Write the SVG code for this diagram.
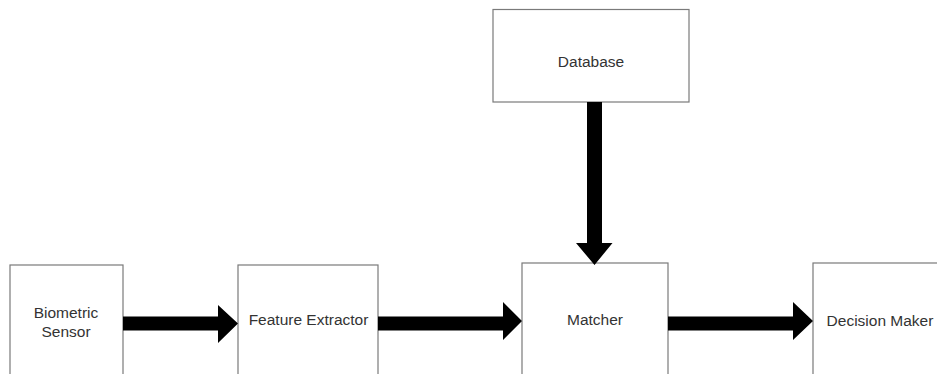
<svg xmlns="http://www.w3.org/2000/svg" width="937" height="374" viewBox="0 0 937 374">
<style>
.box{fill:#fff;stroke:#7a7a7a;stroke-width:1.2}
.lbl{font-family:"Liberation Sans",Arial,sans-serif;font-size:15.5px;fill:#333;text-anchor:middle}
.arr{fill:#000}
</style>
<rect width="937" height="374" fill="#fff"/>
<g id="database"><rect class="box" x="493" y="9.5" width="196" height="92.5"/><text class="lbl" x="591" y="67">Database</text></g>
<g id="biometric-sensor"><rect class="box" x="10" y="265" width="113" height="120"/><text class="lbl" x="66" y="318">Biometric</text><text class="lbl" x="66" y="337">Sensor</text></g>
<g id="feature-extractor"><rect class="box" x="238" y="265" width="140" height="120"/><text class="lbl" x="308.5" y="325">Feature Extractor</text></g>
<g id="matcher"><rect class="box" x="522" y="263" width="146" height="122"/><text class="lbl" x="595" y="325">Matcher</text></g>
<g id="decision-maker"><rect class="box" x="813" y="263" width="140" height="122"/><text class="lbl" x="880" y="326">Decision Maker</text></g>
<g id="connectors">
<polygon class="arr" points="123,316.5 218,316.5 218,305 238,323.5 218,343 218,330.5 123,330.5"/>
<polygon class="arr" points="378,316.5 503,316.5 503,302 522,321 503,340 503,330.5 378,330.5"/>
<polygon class="arr" points="668,316.5 793,316.5 793,302 813,321 793,340 793,330.5 668,330.5"/>
<polygon class="arr" points="587,102 602,102 602,243 612.5,243 594.5,265 576,243 587,243"/>
</g>
</svg>
